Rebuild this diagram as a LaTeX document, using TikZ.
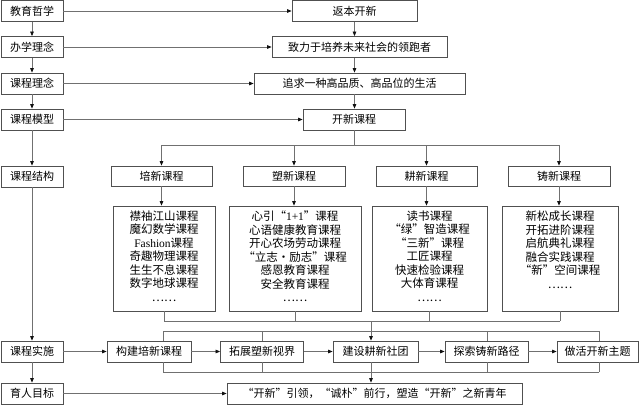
\documentclass[tikz,border=0pt]{standalone}
\usepackage{fontspec}
\setmainfont{Liberation Serif}
\newfontfamily\cjk{Noto Sans CJK SC}
\usetikzlibrary{arrows.meta}
\definecolor{boxc}{HTML}{505050}
\definecolor{linec}{HTML}{707070}
\definecolor{arrc}{HTML}{111111}
\begin{document}
\begin{tikzpicture}[x=1pt,y=-1pt,
  box/.style={draw=boxc, line width=0.8pt, fill=white, inner sep=0pt,
    font=\cjk\fontsize{11}{13}\selectfont, minimum height=21pt},
  lbox/.style={draw=boxc, line width=0.8pt, inner sep=0pt},
  listtxt/.style={inner sep=0pt, align=center, font=\cjk\fontsize{11.5}{13.5}\selectfont},
  conn/.style={draw=linec, line width=0.7pt},
  arr/.style={conn, -{Triangle[length=4.5pt,width=3.6pt,color=arrc]}}]
\useasboundingbox (0,0) rectangle (640,408);
\fill[white] (0,0) rectangle (640,408);

% left column
\node[box,minimum width=62pt] (L1) at (32,11) {教育哲学};
\node[box,minimum width=62pt] (L2) at (32,47) {办学理念};
\node[box,minimum width=62pt] (L3) at (32,83.5) {课程理念};
\node[box,minimum width=62pt] (L4) at (32,119.5) {课程模型};
\node[box,minimum width=62pt] (L5) at (32,176.5) {课程结构};
\node[box,minimum width=62pt] (L6) at (32,351.5) {课程实施};
\node[box,minimum width=62pt] (L7) at (32,393.5) {育人目标};

% right column
\node[box,minimum width=125pt] (R1) at (354.5,11) {返本开新};
\node[box,minimum width=175pt] (R2) at (359.5,47) {致力于培养未来社会的领跑者};
\node[box,minimum width=211pt] (R3) at (359.5,83.5) {追求一种高品质、高品位的生活};
\node[box,minimum width=102pt] (R4) at (354,119.5) {开新课程};

% categories
\node[box,minimum width=101pt,minimum height=20pt] (C1) at (161.5,176) {培新课程};
\node[box,minimum width=102pt,minimum height=20pt] (C2) at (294,176) {塑新课程};
\node[box,minimum width=101pt,minimum height=20pt] (C3) at (426.5,176) {耕新课程};
\node[box,minimum width=102pt,minimum height=20pt] (C4) at (559,176) {铸新课程};

% list boxes
\node[lbox,minimum width=102pt,minimum height=105pt] (P1) at (164,258.5) {};
\node[lbox,minimum width=132pt,minimum height=105pt] (P2) at (295,258.5) {};
\node[lbox,minimum width=115pt,minimum height=105pt] (P3) at (429.5,258.5) {};
\node[lbox,minimum width=116pt,minimum height=105pt] (P4) at (560,258.5) {};
\node[listtxt,anchor=north] (T1) at (P1.north) [yshift=-5pt] {襟袖江山课程\\魔幻数学课程\\{\rmfamily Fashion}课程\\奇趣物理课程\\生生不息课程\\数字地球课程\\……};
\node[listtxt,anchor=north] (T2) at (P2.north) [yshift=-5pt] {心引“{\rmfamily 1+1}”课程\\心语健康教育课程\\开心农场劳动课程\\“立志·励志”课程\\感恩教育课程\\安全教育课程\\……};
\node[listtxt,anchor=north] (T3) at (P3.north) [yshift=-5pt] {读书课程\\“绿”智造课程\\“三新”课程\\工匠课程\\快速检验课程\\大体育课程\\……};
\node[listtxt,anchor=north] (T4) at (P4.north) [yshift=-5pt] {新松成长课程\\开拓进阶课程\\启航典礼课程\\融合实践课程\\“新”空间课程\\……};

% implementation row
\node[box,minimum width=84pt] (B1) at (149,351.5) {构建培新课程};
\node[box,minimum width=83pt] (B2) at (262,351.5) {拓展塑新视界};
\node[box,minimum width=85pt] (B3) at (375.5,351.5) {建设耕新社团};
\node[box,minimum width=83pt] (B4) at (486.5,351.5) {探索铸新路径};
\node[box,minimum width=81pt] (B5) at (597.5,351.5) {做活开新主题};

% goal
\node[box,minimum width=295pt] (G) at (374.5,393.5) {“开新”引领，“诚朴”前行，塑造“开新”之新青年};

% left vertical arrows
\draw[arr] (L1) -- (L2);
\draw[arr] (L2) -- (L3);
\draw[arr] (L3) -- (L4);
\draw[arr] (L4) -- (L5);
\draw[arr] (L5) -- (L6);
\draw[arr] (L6) -- (L7);

% horizontal arrows
\draw[arr] (L1) -- (R1);
\draw[arr] (L2) -- (R2);
\draw[arr] (L3) -- (R3);
\draw[arr] (L4) -- (R4);
\draw[arr] (L6) -- (B1);
\draw[arr] (B1) -- (B2);
\draw[arr] (B2) -- (B3);
\draw[arr] (B3) -- (B4);
\draw[arr] (B4) -- (B5);
\draw[arr] (L7) -- (G);

% right vertical arrows
\draw[arr] (R1.south) -- (R1.south |- R2.north);
\draw[arr] (R1.south |- R2.south) -- (R1.south |- R3.north);
\draw[arr] (R1.south |- R3.south) -- (R1.south |- R4.north);

% top bus
\coordinate (bus) at (354,145);
\draw[conn] (R4.south) -- (bus);
\draw[conn] (C1.north |- bus) -- (C4.north |- bus);
\foreach \n in {C1,C2,C3,C4} \draw[arr] (\n.north |- bus) -- (\n.north);
\foreach \n/\m in {C1/P1,C2/P2,C3/P3,C4/P4} \draw[arr] (\n.south) -- (\n.south |- \m.north);

% lower bus
\coordinate (bus2) at (371,321);
\draw[conn] (P1.south |- bus2) -- (P4.south |- bus2);
\foreach \n in {P1,P2,P3,P4} \draw[conn] (\n.south) -- (\n.south |- bus2);

% brackets
\coordinate (t1) at (163,331);
\coordinate (t2) at (262,331);
\coordinate (t4) at (487,331);
\coordinate (t5) at (599,331);
\coordinate (u1) at (163,372);
\coordinate (u2) at (262,372);
\coordinate (u4) at (487,372);
\coordinate (u5) at (599,372);
\draw[conn] (t1) -- (t5);
\draw[conn] (u1) -- (u5);
\foreach \t/\u/\b in {t1/u1/B1,t2/u2/B2,t4/u4/B4,t5/u5/B5}{
  \draw[conn] (\t) -- (\t |- \b.north);
  \draw[conn] (\u) -- (\u |- \b.south);
}
\draw[arr] (bus2) -- (bus2 |- B3.north);
\draw[arr] (bus2 |- B3.south) -- (bus2 |- G.north);
\end{tikzpicture}
\end{document}
